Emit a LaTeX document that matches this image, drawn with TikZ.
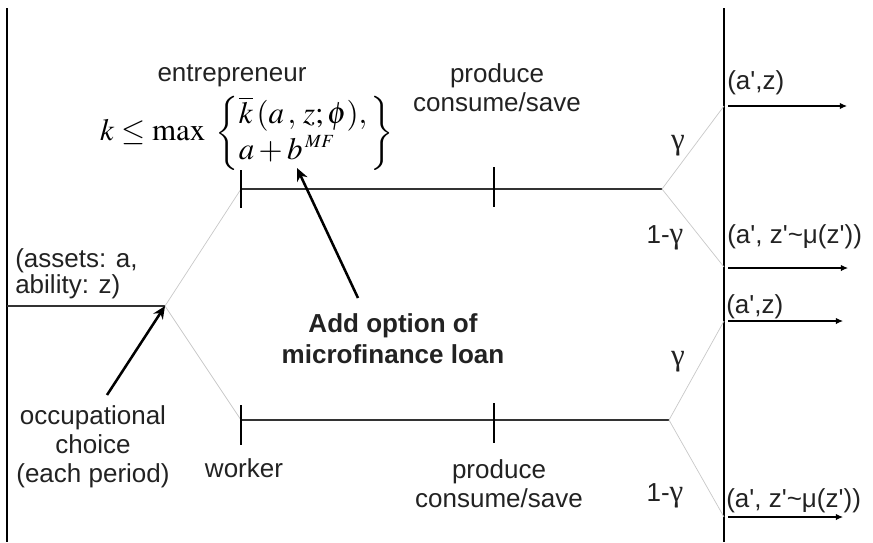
\documentclass[tikz,border=0pt]{standalone}
\usepackage{mathptmx}
\usepackage[no-math]{fontspec}
\setmainfont{Liberation Sans}[Ligatures=TeXOff]
\newfontfamily\timesgr{Liberation Serif}
\usetikzlibrary{arrows.meta}
\definecolor{twig}{HTML}{C8C8C8}
\definecolor{stem}{HTML}{333333}
\definecolor{ink}{HTML}{222222}
\newcommand{\gam}{{\fontsize{22}{22}\selectfont\timesgr γ}}
\tikzset{
  lbl/.style={
    font=\fontsize{18.5}{20.6}\selectfont, text=ink,
    inner sep=0pt, anchor=base, align=center
  },
  lblL/.style={lbl, align=left, anchor=base west},
  note/.style={lbl, font=\fontsize{18.5}{21.5}\selectfont\bfseries},
  edge/.style={draw=stem, line width=0.8pt},
  twig/.style={draw=twig, line width=0.5pt},
  tick/.style={draw=black, line width=0.8pt},
  wall/.style={draw=black, line width=1.1pt},
  nxt/.style={-{Latex[length=5pt,width=4.5pt]}, line width=0.8pt, black},
  arr/.style={-{Stealth[length=9pt,width=8pt]}, line width=1.8pt, black}
}

\begin{document}
\begin{tikzpicture}[x=0.025cm, y=-0.025cm]
\useasboundingbox (0,0) rectangle (873,542);

% ── Period walls ──────────────────────────────────────────────────
\draw[wall] (7,8) -- (7,542);
\draw[wall] (724,8) -- (724,542);

% ── Tree points ───────────────────────────────────────────────────
\coordinate (in)     at (7,306);
\coordinate (root)   at (165,306);
\coordinate (ent)    at (241,189);
\coordinate (entend) at (662,189);
\coordinate (wrk)    at (241,420);
\coordinate (wrkend) at (669,420);
\coordinate (eup)    at (724,106);
\coordinate (edn)    at (724,267);
\coordinate (wup)    at (724,321);
\coordinate (wdn)    at (724,517);

% ── Branches ──────────────────────────────────────────────────────
\draw[edge] (in) -- (root);
\draw[twig] (root) -- (ent);
\draw[twig] (root) -- (wrk);
\draw[edge] (ent) -- (entend);
\draw[edge] (wrk) -- (wrkend);
\draw[twig] (entend) -- (eup);
\draw[twig] (entend) -- (edn);
\draw[twig] (wrkend) -- (wup);
\draw[twig] (wrkend) -- (wdn);

% ── Ticks ─────────────────────────────────────────────────────────
\draw[tick] (241,170) -- (241,208);
\draw[tick] (494,167) -- (494,207);
\draw[tick] (241,405) -- (241,445);
\draw[tick] (494,403) -- (494,443);

% ── Next period arrows ────────────────────────────────────────────
\foreach \y/\e in {106/847, 268/848, 321/843, 517/843}{
  \draw[nxt] (728,\y) -- (\e,\y);
}

% ── Entrepreneur branch ───────────────────────────────────────────
\node[lbl] (entlbl) at (232,81) {entrepreneur};
\node[inner sep=0pt, font=\fontsize{22}{25}\selectfont] (cons) at (247,133)
  {$k \le \max\;\left\{\begin{array}{@{}l@{\,}}
     \overline{k}\,(a\,,\,z;\phi),\\
     a+b^{\,\scriptscriptstyle MF}
   \end{array}\right\}$};
\node[lbl] (eprod) at (497,111) {produce\\consume/save};
\node[lbl] (eg)  at (678,149) {\gam};
\node[lbl] (eng) at (665,243) {1-\gam};
\node[lblL] (estay) at (727,89)  {(a',z)};
\node[lblL] (edraw) at (727,243) {(a', z'\textasciitilde μ(z'))};

% ── Worker branch ─────────────────────────────────────────────────
\node[lbl] (wlbl)  at (244,477) {worker};
\node[lbl] (wprod) at (499,507) {produce\\consume/save};
\node[lbl] (wg)  at (678,365) {\gam};
\node[lbl] (wng) at (665,501) {1-\gam};
\node[lblL] (wstay) at (726,313) {(a',z)};
\node[lblL] (wdraw) at (726,507) {(a', z'\textasciitilde μ(z'))};

% ── State and choice ──────────────────────────────────────────────
\node[lblL, font=\fontsize{18.5}{17}\selectfont] (state) at (15,293)
  {(assets: a,\\ability: z)};
\node[lbl] (occ) at (93,482) {occupational\\choice\\(each period)};
\coordinate (occtail) at (107,395);
\draw[arr] (occtail) -- (root);

% ── Microfinance note ─────────────────────────────────────────────
\node[note] (mf) at (393,363) {Add option of\\microfinance loan};
\coordinate (mftail) at (358,298);
\coordinate (mfhead) at (297,168);
\draw[arr] (mftail) -- (mfhead);

\end{tikzpicture}
\end{document}
